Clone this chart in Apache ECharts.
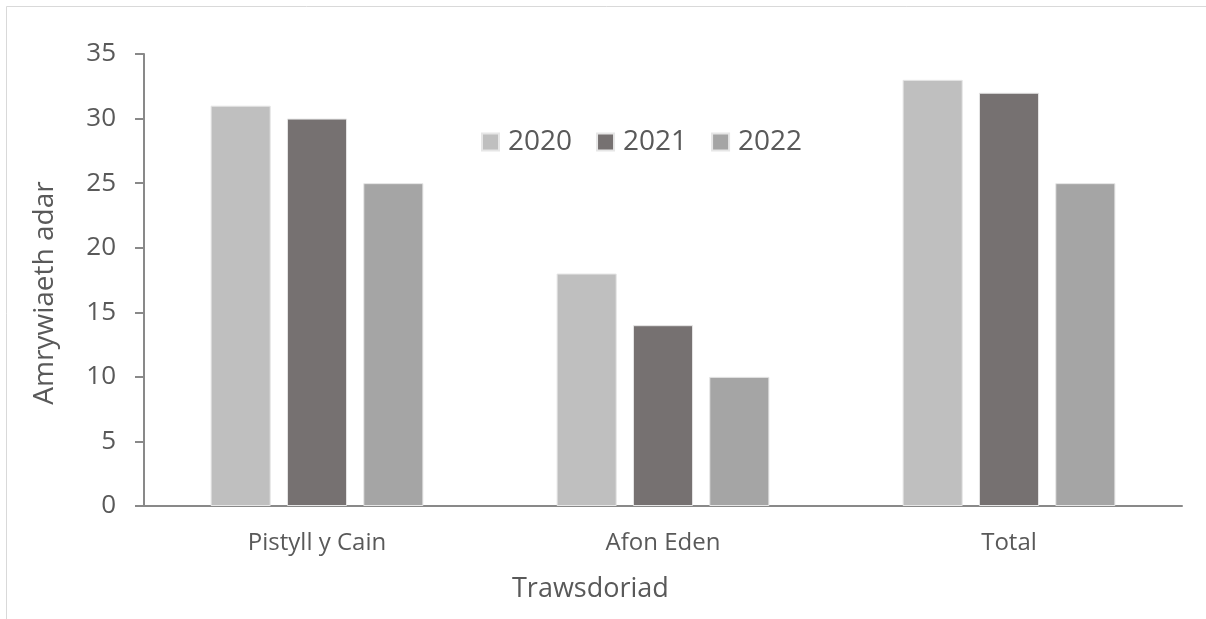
<!DOCTYPE html>
<html>
<head>
<meta charset="utf-8">
<script src="https://cdn.jsdelivr.net/npm/echarts@6/dist/echarts.min.js"></script>
<style>
html,body{margin:0;padding:0;background:#fff;}
#c{width:1206px;height:619px;}
</style>
</head>
<body>
<div id="c"></div>
<script>
const categories = ['Pistyll y Cain', 'Afon Eden', 'Total'];
const seriesNames = ['2020', '2021', '2022'];
const values2020 = [31, 18, 33];
const values2021 = [30, 14, 32];
const values2022 = [25, 10, 25];
const yTicks = { min: 0, max: 35, interval: 5 };

const colors = ['#BFBFBF', '#767171', '#A5A5A5'];
const allValues = [values2020, values2021, values2022];
const font = '"Open Sans", "Liberation Sans", sans-serif';

const chart = echarts.init(document.getElementById('c'));
chart.setOption({
  animation: false,
  backgroundColor: '#fff',
  grid: { left: 144, top: 54, right: 24, bottom: 113, containLabel: false },
  legend: {
    data: seriesNames,
    left: 476, top: 123,
    icon: 'rect', itemWidth: 17, itemHeight: 17, itemGap: 24,
    textStyle: { fontSize: 28, color: '#595959', fontFamily: font, padding: [0,0,0,4] }
  },
  graphic: [
    { type: 'rect', shape: { x: 6.5, y: 6.5, width: 1300, height: 700 }, style: { fill: 'none', stroke: '#d9d9d9', lineWidth: 1 }, silent: true },
    { type: 'text', left: 512, top: 576, style: { text: 'Trawsdoriad', fontSize: 27, fill: '#595959', fontFamily: font } },
    { type: 'text', x: 45, y: 293, rotation: Math.PI / 2, style: { text: 'Amrywiaeth adar', fontSize: 28, fill: '#595959', fontFamily: font, align: 'center', verticalAlign: 'middle' } }
  ],
  xAxis: {
    type: 'category', data: categories,
    axisLine: { lineStyle: { color: '#898989', width: 2 } },
    axisTick: { show: false },
    axisLabel: { fontSize: 24, color: '#595959', fontFamily: font, margin: 25 }
  },
  yAxis: {
    type: 'value', min: yTicks.min, max: yTicks.max, interval: yTicks.interval,
    axisLine: { show: true, lineStyle: { color: '#898989', width: 2 } },
    axisTick: { show: true, length: 9, lineStyle: { color: '#898989', width: 2 } },
    splitLine: { show: false },
    axisLabel: { fontSize: 26, color: '#595959', fontFamily: font, margin: 28 }
  },
  series: seriesNames.map((n, i) => ({
    name: n, type: 'bar', data: allValues[i],
    barGap: '27%', barCategoryGap: '38.5%',
    itemStyle: { color: colors[i], borderColor: '#e6e6e6', borderWidth: 1 }
  }))
});
</script>
</body>
</html>
